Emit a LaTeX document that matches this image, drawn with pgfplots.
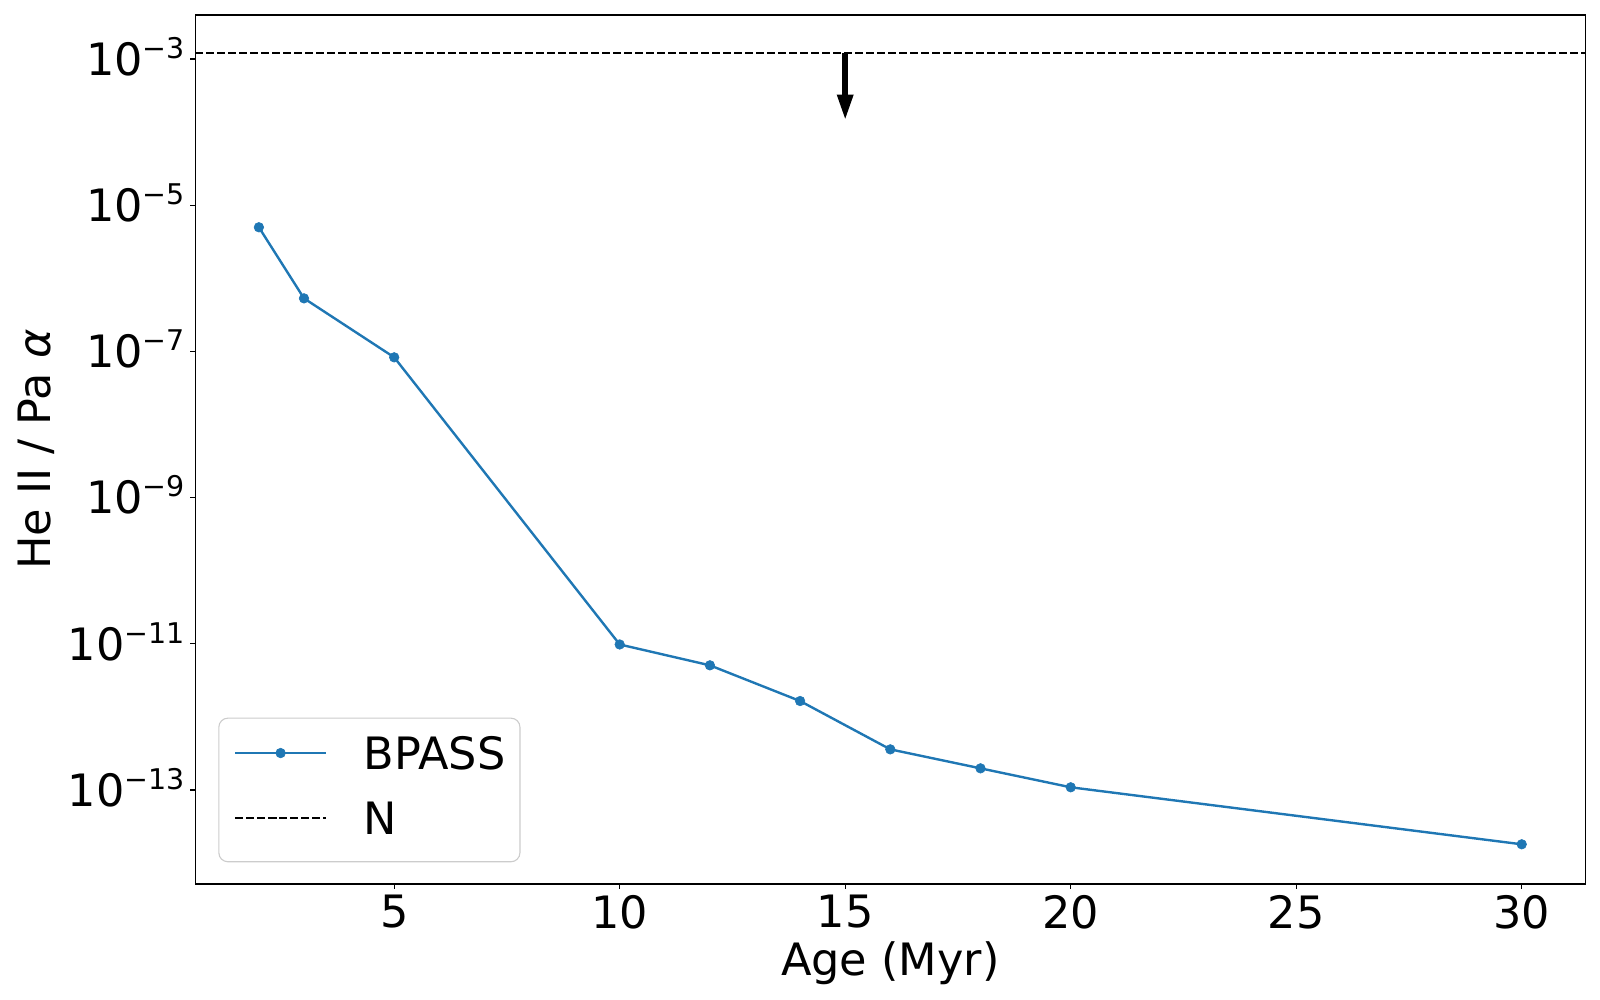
\documentclass[border=0pt]{standalone}
\usepackage{fontspec}
\setmainfont{DejaVu Sans}
\usepackage{pgfplots}
\pgfplotsset{compat=1.18}
\usetikzlibrary{arrows.meta}
\definecolor{tabblue}{HTML}{1F77B4}
\newcommand\bigf{\fontsize{44.6bp}{54bp}\selectfont}
\newcommand\supf{\fontsize{28.5bp}{29bp}\selectfont}
\newcommand\tl[1]{10\raisebox{17bp}[0pt][0pt]{\supf −#1}}
\begin{document}
\begin{tikzpicture}
\path[use as bounding box] (0,0) rectangle (1600bp,1000bp);
\begin{axis}[
  at={(195.3bp,116bp)}, anchor=south west,
  width=1390bp, height=869bp, scale only axis,
  ymode=log,
  xmin=0.59, xmax=31.41, ymin=5.18e-15, ymax=4.0e-3,
  axis line style={line width=1.1bp, black},
  tick align=outside, tick pos=left,
  major tick length=4.9bp,
  tick style={line width=1.1bp, black},
  yminorticks=false, xminorticks=false,
  xtick={5,10,15,20,25,30},
  ytick={1e-13,1e-11,1e-9,1e-7,1e-5,1e-3},
  yticklabels={\tl{13},\tl{11},\tl{9},\tl{7},\tl{5},\tl{3}},
  /pgf/number format/assume math mode=true,
  xticklabel style={font=\bigf, inner sep=0pt, anchor=north, yshift=-6.1bp},
  yticklabel style={font=\bigf, inner sep=0pt, anchor=east, xshift=-5.4bp},
  xlabel={Age (Myr)},
  ylabel={He II / Pa \textit{α}},
  xlabel style={font=\bigf, inner sep=0pt, at={(axis description cs:0.5,-0.1055)}, anchor=base},
  ylabel style={font=\bigf, inner sep=0pt, at={(axis description cs:-0.10453,0.5)}, anchor=base, rotate=0},
  legend image code/.code={\draw[mark repeat=2, mark phase=2, #1] plot coordinates {(0bp,16.5bp) (45.35bp,16.5bp) (90.7bp,16.5bp)};},
  legend style={at={(0,0)}, anchor=south west, xshift=23bp, yshift=21.7bp,
    draw=black!20, line width=1.1bp, rounded corners=9bp, fill=white,
    inner xsep=15.2bp, inner ysep=18.4bp, row sep=23.4bp, column sep=36.6bp,
    font=\bigf,
    nodes={inner sep=0pt, anchor=base west, text height=33bp, text depth=8.7bp, text width=141bp, align=left}},
]
\addplot[tabblue, line width=2.4bp, mark=*, mark size=4.8bp, mark options={solid, line width=0.6bp, fill=tabblue}]
  coordinates {(2,4.99e-6) (3,5.32e-7) (5,8.3e-8) (10,9.8e-12) (12,5.08e-12) (14,1.65e-12) (16,3.6e-13) (18,1.98e-13) (20,1.09e-13) (30,1.81e-14)};
\addlegendentry{BPASS}
\addplot[black, line width=2.1bp, dash pattern=on 7.7bp off 3.3bp]
  coordinates {(0.59,1.2e-3) (31.41,1.2e-3)};
\addlegendentry{N}
\draw[black, line width=6.5bp, -{Triangle[length=26.7bp, width=14.7bp]}] (axis cs:15,1.2e-3) -- (axis cs:15,1.41e-4);
\end{axis}
\end{tikzpicture}
\end{document}
